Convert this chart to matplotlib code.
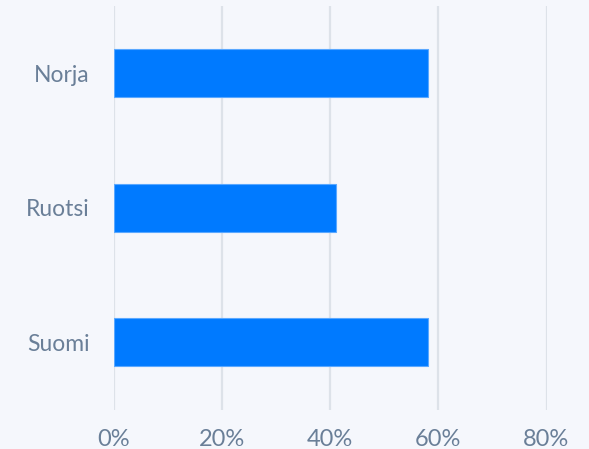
import matplotlib.pyplot as plt

COUNTRIES = ['Suomi', 'Ruotsi', 'Norja']
SHARES = [58, 41, 58]
XTICKS = [0, 20, 40, 60, 80]

BG = '#f5f7fc'
BAR = '#007aff'
GRID = '#dde2e9'
TEXT = '#6a7f98'

plt.rcParams['font.family'] = ['Lato', 'DejaVu Sans']

fig = plt.figure(figsize=(5.89, 4.49), dpi=100, facecolor=BG)
ax = fig.add_axes([114 / 589, 1 - 409.5 / 449, 432.5 / 589, 403.5 / 449])
ax.set_facecolor(BG)

ax.barh(range(len(COUNTRIES)), SHARES, height=0.36, color=BAR,
        edgecolor='#5aa8ff', linewidth=0.8, zorder=3)

ax.set_xlim(0, 80)
ax.set_ylim(-0.5, len(COUNTRIES) - 0.5)
ax.set_xticks(XTICKS)
ax.set_xticklabels(['{}%'.format(t) for t in XTICKS])
ax.set_yticks(range(len(COUNTRIES)))
ax.set_yticklabels(COUNTRIES)

ax.grid(axis='x', color=GRID, linewidth=1.6, zorder=0)
for s in ax.spines.values():
    s.set_visible(False)
ax.tick_params(axis='both', length=0, labelcolor=TEXT)
ax.tick_params(axis='y', pad=17.5, labelsize=16.5)
ax.tick_params(axis='x', pad=14, labelsize=17)

plt.savefig('out.png', dpi=100, facecolor=BG)
